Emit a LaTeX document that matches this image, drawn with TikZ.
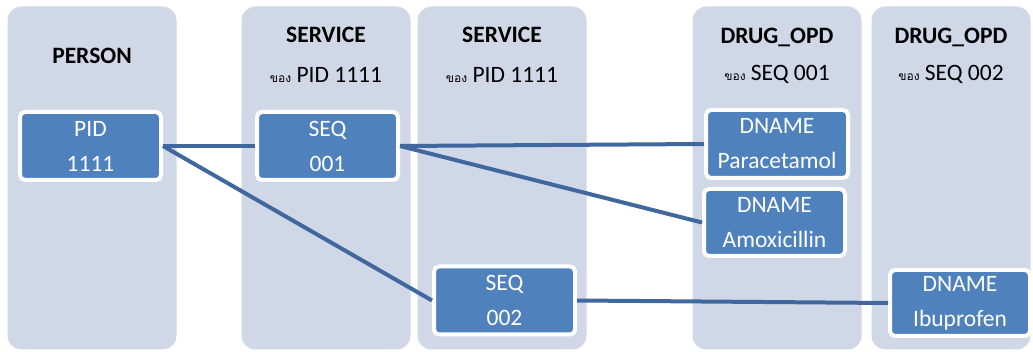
\documentclass[tikz,border=0pt]{standalone}
\usepackage{fontspec}
\setmainfont{Carlito}
\newfontfamily\thaifont[Script=Thai]{Loma}
\definecolor{panelbg}{RGB}{208,216,232}
\definecolor{boxblue}{RGB}{79,129,189}
\definecolor{linkblue}{RGB}{65,104,158}
\tikzset{
  panel/.style={fill=panelbg, draw=white, line width=1pt, rounded corners=14pt},
  recbox/.style={fill=boxblue, draw=white, line width=4pt, rounded corners=5pt,
    minimum width=141pt, minimum height=68pt, inner sep=0pt,
    text=white, align=center, font=\fontsize{23.5}{35}\selectfont},
  head/.style={anchor=base, font=\fontsize{23.5}{27}\selectfont\bfseries, text=black},
  sub/.style={anchor=base, font=\fontsize{23.5}{27}\selectfont, text=black},
  link/.style={draw=linkblue, line width=4pt}
}
\newcommand{\kh}{{\thaifont\fontsize{12}{14}\selectfont ของ}}
\begin{document}
\begin{tikzpicture}[x=1pt, y=-1pt]
\useasboundingbox (0,0) rectangle (1033,352);

% column panels
\path[panel] (7,6) rectangle (177,350);
\path[panel] (241,6) rectangle (411,350);
\path[panel] (417,6) rectangle (587,350);
\path[panel] (692,6) rectangle (862,350);
\path[panel] (871,6) rectangle (1031,350);

% column headings
\node[head] (hperson) at (92,64) {PERSON};
\node[head] (hsvc1) at (326,43) {SERVICE};
\node[sub] (ssvc1) at (326,83) {\kh\ PID 1111};
\node[head] (hsvc2) at (502,43) {SERVICE};
\node[sub] (ssvc2) at (502,83) {\kh\ PID 1111};
\node[head] (hdrug1) at (777,44) {DRUG\_OPD};
\node[sub] (sdrug1) at (777,81) {\kh\ SEQ 001};
\node[head] (hdrug2) at (951,44) {DRUG\_OPD};
\node[sub] (sdrug2) at (951,81) {\kh\ SEQ 002};

% record boxes
\node[recbox] (pid) at (90.5,146) {PID\\1111};
\node[recbox] (seqa) at (327.5,146) {SEQ\\001};
\node[recbox] (seqb) at (504.5,300.5) {SEQ\\002};
\node[recbox, minimum width=142pt] (para) at (777,144) {DNAME\\Paracetamol};
\node[recbox, minimum height=67pt] (amox) at (774.5,222.5) {DNAME\\Amoxicillin};
\node[recbox, minimum width=140pt, minimum height=66pt] (ibu) at (960,303) {DNAME\\Ibuprofen};

% links between records
\draw[link] (pid.east) -- (seqa.west);
\draw[link] (pid.east) -- (seqb.west);
\draw[link] (seqa.east) -- (para.west);
\draw[link] (seqa.east) -- (amox.west);
\draw[link] (seqb.east) -- (ibu.west);
\end{tikzpicture}
\end{document}
